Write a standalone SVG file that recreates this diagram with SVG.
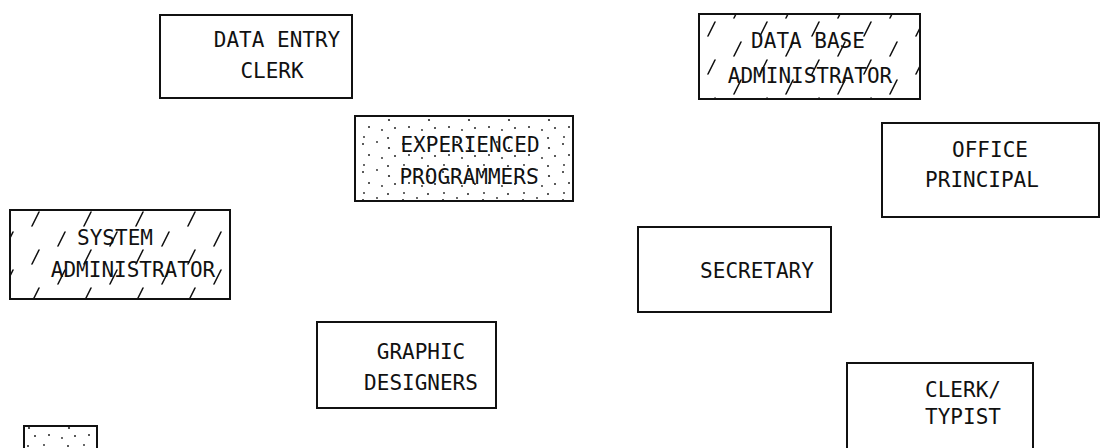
<svg xmlns="http://www.w3.org/2000/svg" width="1101" height="448" viewBox="0 0 1101 448">
<defs>
<pattern id="hatch" width="52" height="38" patternUnits="userSpaceOnUse">
<path d="M6 18 L13 4 M32 36 L39 22" stroke="#111" stroke-width="1.6" stroke-linecap="round" fill="none"/>
</pattern>
<pattern id="dots" width="40" height="28" patternUnits="userSpaceOnUse">
<g fill="#222">
<circle cx="3" cy="4" r="1"/><circle cx="17" cy="2" r="0.9"/><circle cx="29" cy="8" r="1.1"/>
<circle cx="9" cy="15" r="1"/><circle cx="22" cy="18" r="0.9"/><circle cx="35" cy="16" r="1"/>
<circle cx="4" cy="25" r="0.9"/><circle cx="28" cy="26" r="1"/>
</g>
</pattern>
<style>
.box{fill:#fff;stroke:#111;stroke-width:2}
.hatch{fill:url(#hatch);stroke:#111;stroke-width:2}
.dots{fill:url(#dots);stroke:#111;stroke-width:2}
text{font-family:"DejaVu Sans Mono","Liberation Mono",monospace;font-size:21px;fill:#111;text-anchor:middle}
</style>
</defs>
<rect width="1101" height="448" fill="#fff"/>
<g id="data-entry-clerk">
<rect class="box" x="160" y="15" width="192" height="83"/>
<text x="277" y="47">DATA ENTRY</text>
<text x="272" y="78">CLERK</text>
</g>
<g id="data-base-administrator">
<rect class="hatch" x="699" y="14" width="221" height="85"/>
<text x="808" y="48">DATA BASE</text>
<text x="810" y="83">ADMINISTRATOR</text>
</g>
<g id="experienced-programmers">
<rect class="dots" x="355" y="116" width="218" height="85"/>
<text x="470" y="152">EXPERIENCED</text>
<text x="469" y="184">PROGRAMMERS</text>
</g>
<g id="office-principal">
<rect class="box" x="882" y="123" width="217" height="94"/>
<text x="990" y="157">OFFICE</text>
<text x="982" y="187">PRINCIPAL</text>
</g>
<g id="system-administrator">
<rect class="hatch" x="10" y="210" width="220" height="89"/>
<text x="115" y="245">SYSTEM</text>
<text x="133" y="277">ADMINISTRATOR</text>
</g>
<g id="secretary">
<rect class="box" x="638" y="227" width="193" height="85"/>
<text x="757" y="278">SECRETARY</text>
</g>
<g id="graphic-designers">
<rect class="box" x="317" y="322" width="179" height="86"/>
<text x="421" y="359">GRAPHIC</text>
<text x="421" y="390">DESIGNERS</text>
</g>
<g id="clerk-typist">
<rect class="box" x="847" y="363" width="186" height="100"/>
<text x="963" y="397">CLERK/</text>
<text x="963" y="424">TYPIST</text>
</g>
<g id="small-stipple">
<rect class="dots" x="24" y="426" width="73" height="40"/>
</g>
<g id="connectors"></g>
</svg>
